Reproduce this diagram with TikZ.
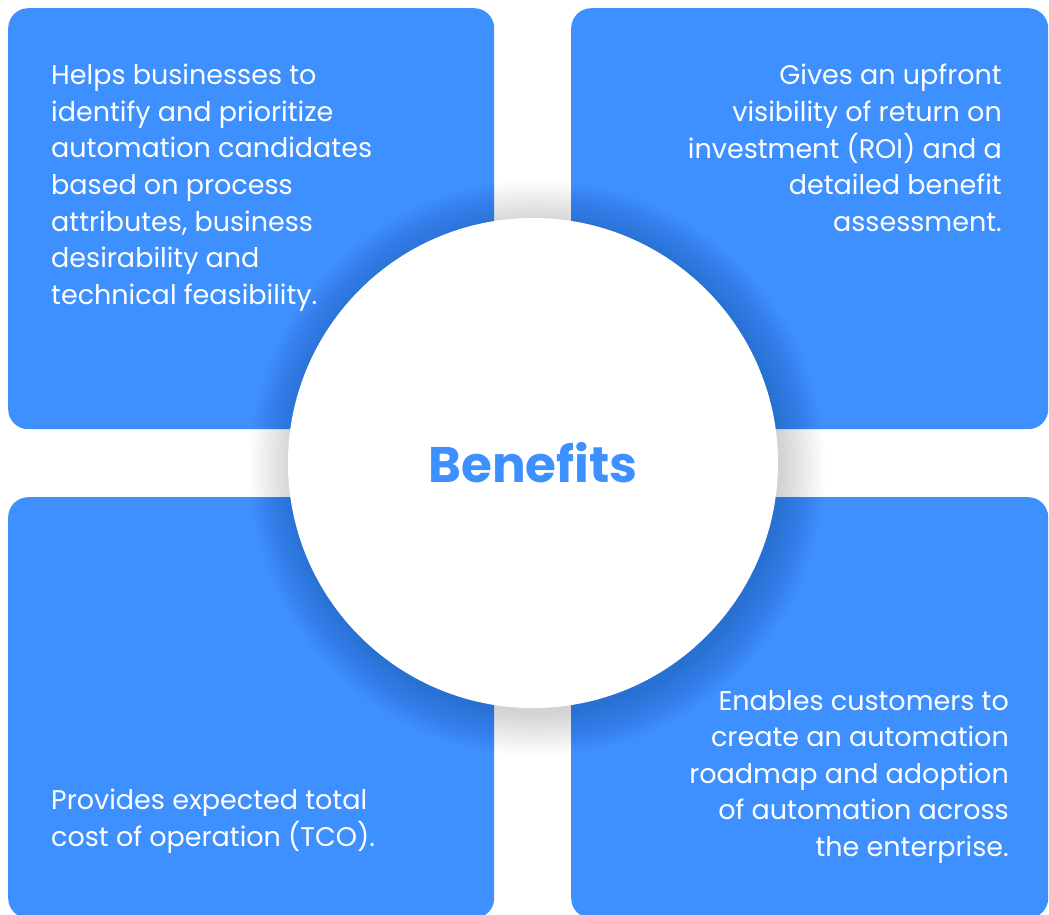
\documentclass[tikz,border=0pt]{standalone}
\usepackage{fontspec}
\setmainfont{Poppins}
\usetikzlibrary{positioning}
\definecolor{tileblue}{HTML}{3E90FE}

\tikzset{
  panel/.style={fill=tileblue, rounded corners=20pt, minimum width=486pt, minimum height=421pt, inner sep=0pt},
  blurb/.style={text=white, inner sep=0pt, font=\fontsize{27}{36.6}\selectfont},
  hub/.style={circle, fill=white, minimum size=490pt, inner sep=0pt, text=tileblue, font=\fontsize{50}{60}\selectfont\bfseries}
}

\begin{document}
\begin{tikzpicture}[x=1pt,y=-1pt]
  \useasboundingbox (0,0) rectangle (1049,914);
  % four tiles
  \node[panel, anchor=north west] (tl) at (8,8) {};
  \node[panel, anchor=north west, minimum width=477pt] (tr) at (571,8) {};
  \node[panel, anchor=north west] (bl) at (8,497) {};
  \node[panel, anchor=north west, minimum width=477pt] (br) at (571,497) {};
  % soft shadow round the hub
  \coordinate (sh) at (537,468);
  \foreach \r in {1,...,22}
    \fill[black, opacity=0.008] (sh) circle[radius=244pt+2pt*\r];
  \node[hub] (hub) at (533,463) {Benefits};
  % texts
  \node[blurb, align=left, anchor=north west] (tltxt) at (51,64)
    {Helps businesses to\\identify and prioritize\\automation candidates\\based on process\\attributes, business\\desirability and\\technical feasibility.};
  \node[blurb, align=right, anchor=north east] (trtxt) at (1002,64)
    {Gives an upfront\\visibility of return on\\investment (ROI) and a\\detailed benefit\\assessment.};
  \node[blurb, align=left, anchor=north west] (bltxt) at (51,789)
    {Provides expected total\\cost of operation (TCO).};
  \node[blurb, align=right, anchor=north east] (brtxt) at (1009,690)
    {Enables customers to\\create an automation\\roadmap and adoption\\of automation across\\the enterprise.};
\end{tikzpicture}
\end{document}
